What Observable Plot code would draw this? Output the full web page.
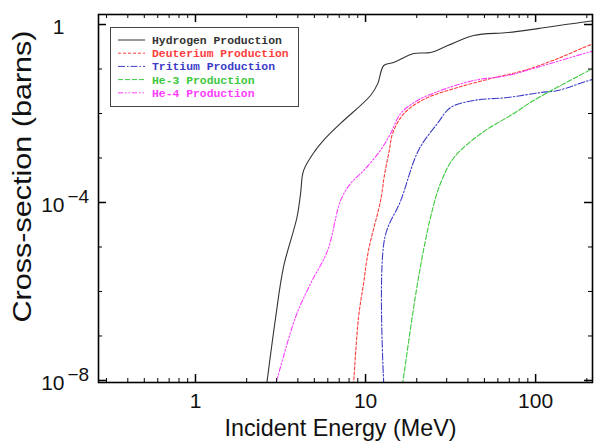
<!DOCTYPE html>
<html><head><meta charset="utf-8">
<script src="https://cdn.jsdelivr.net/npm/d3@7"></script>
<script src="https://cdn.jsdelivr.net/npm/@observablehq/plot@0.6"></script>
<style>
html,body{margin:0;padding:0;background:#fff;}
#wrap{position:relative;width:594px;height:447px;overflow:hidden;}
#legend{position:absolute;left:0;top:0;}
</style></head><body><div id="wrap"></div>
<script>
// ---- data ----
const seriesNames = ["Hydrogen Production","Deuterium Production","Tritium Production","He-3 Production","He-4 Production"];
const seriesColors = ["#333333","#ff3c3c","#3c3cc8","#3cc83c","#ff3cff"];
const seriesDash = ["none","3,2","7,2,1.5,2","5,2","5,2,1.5,2,1.5,2"];

const hydrogenE  = [2.62, 2.96, 3.29, 3.95, 4.15, 4.32, 5.08, 5.66, 7.13, 10.7, 11.8, 12.8, 14.6, 19.2, 24.1, 30.4, 43.2, 68.4, 103, 202, 216];
const hydrogenXS = [8e-9, 2.6e-7, 3.5e-6, 4.6e-5, 1.6e-4, 5.2e-4, 1.5e-3, 2.5e-3, 6.0e-3, 0.0254, 0.047, 0.12, 0.14, 0.223, 0.235, 0.337, 0.566, 0.66, 0.81, 1.17, 1.2];

const deuteriumE  = [8.5, 9.09, 9.73, 10.4, 12.25, 12.9, 13.8, 14.4, 16.1, 18.4, 23.2, 34.8, 54.4, 85, 135, 205, 216];
const deuteriumXS = [8e-9, 2.6e-7, 1.5e-6, 8.3e-6, 1.1e-4, 4.0e-4, 1.5e-3, 3.5e-3, 8.1e-3, 0.0136, 0.0229, 0.0384, 0.061, 0.092, 0.172, 0.337, 0.36];

const tritiumE  = [12.8, 12.95, 16.1, 20.5, 26.5, 31.6, 43.2, 68.4, 107, 135, 205, 216];
const tritiumXS = [8e-9, 1.55e-5, 1.1e-4, 1.5e-3, 6.0e-3, 0.0136, 0.0196, 0.0229, 0.0296, 0.0329, 0.0552, 0.058];

const he3E  = [16.5, 20.2, 24.1, 27.6, 33.0, 47.5, 74.3, 97.3, 205, 216];
const he3XS = [8e-9, 1.5e-6, 4.6e-5, 2.7e-4, 1.0e-3, 3.5e-3, 0.01, 0.0196, 0.092, 0.102];

const he4E  = [2.96, 3.87, 4.75, 5.98, 7.13, 8.16, 9.73, 12.25, 14.0, 16.1, 20.2, 27.6, 43.2, 68.4, 97.3, 202, 216];
const he4XS = [8e-9, 2.6e-7, 1.5e-6, 8.3e-6, 1.1e-4, 2.67e-4, 5.2e-4, 1.5e-3, 3.5e-3, 0.01, 0.0196, 0.0329, 0.0552, 0.0714, 0.103, 0.235, 0.25];

const xMajorTicks = [1, 10, 100];
const xMajorLabels = ["1", "10", "100"];
const xMinorTicks = [0.3,0.4,0.5,0.6,0.7,0.8,0.9,2,3,4,5,6,7,8,9,20,30,40,50,60,70,80,90,200];
const yMajorTicks = [1, 1e-4, 1e-8];
const yLabelBase = ["1", "10", "10"];
const yLabelExp  = ["", "\u22124", "\u22128"];
const yMinorTicks = [1e-1,1e-2,1e-3,1e-5,1e-6,1e-7];

const xTitle = "Incident Energy (MeV)";
const yTitle = "Cross-section (barns)";

// ---- layout ----
const W = 594, H = 447, mL = 98, mT = 14, mR = 2, mB = 65;
const innerW = W - mL - mR, innerH = H - mT - mB;
const xDomain = [0.269, 216], yDomain = [9.0e-9, 1.68];

const seriesE = [hydrogenE, deuteriumE, tritiumE, he3E, he4E];
const seriesXS = [hydrogenXS, deuteriumXS, tritiumXS, he3XS, he4XS];
const tables = seriesNames.map((name, k) => seriesE[k].map((e, i) => ({series: name, E: e, xs: seriesXS[k][i]})));

const font = "'Liberation Sans', Arial, Helvetica, sans-serif";

const marks = [];
// curves
tables.forEach((t, k) => {
  marks.push(Plot.line(t, {x: "E", y: "xs", stroke: seriesColors[k], strokeWidth: 1.1, curve: "catmull-rom",
    strokeDasharray: seriesDash[k] === "none" ? null : seriesDash[k], clip: true}));
});
// frame & ticks (inward)
marks.push(Plot.frame({stroke: "#000", strokeWidth: 1.6}));
marks.push(Plot.ruleX(xMajorTicks, {x: d => d, insetTop: innerH - 8, stroke: "#000", strokeWidth: 1.5}));
marks.push(Plot.ruleX(xMajorTicks, {x: d => d, insetBottom: innerH - 8, stroke: "#000", strokeWidth: 1.5}));
marks.push(Plot.ruleX(xMinorTicks, {x: d => d, insetTop: innerH - 4, stroke: "#000", strokeWidth: 1}));
marks.push(Plot.ruleX(xMinorTicks, {x: d => d, insetBottom: innerH - 4, stroke: "#000", strokeWidth: 1}));
marks.push(Plot.ruleY(yMajorTicks, {y: d => d, insetRight: innerW - 8, stroke: "#000", strokeWidth: 1.5}));
marks.push(Plot.ruleY(yMajorTicks, {y: d => d, insetLeft: innerW - 8, stroke: "#000", strokeWidth: 1.5}));
marks.push(Plot.ruleY(yMinorTicks, {y: d => d, insetRight: innerW - 4, stroke: "#000", strokeWidth: 1}));
marks.push(Plot.ruleY(yMinorTicks, {y: d => d, insetLeft: innerW - 4, stroke: "#000", strokeWidth: 1}));
// tick labels
marks.push(Plot.text(xMajorTicks, {x: d => d, frameAnchor: "bottom", dy: 25, text: (d, i) => xMajorLabels[i], fontSize: 21, fill: "#111"}));
marks.push(Plot.text(yMajorTicks, {y: d => d, frameAnchor: "left", dx: -34, dy: 3, textAnchor: "end", text: (d, i) => yLabelBase[i], fontSize: 21, fill: "#111"}));
marks.push(Plot.text(yMajorTicks, {y: d => d, frameAnchor: "left", dx: -31, dy: -6, textAnchor: "start", text: (d, i) => yLabelExp[i], fontSize: 19, fill: "#111"}));
// axis titles (start-anchored so the stretched length lands where the reference has it)
marks.push(Plot.text([xTitle], {frameAnchor: "bottom", dy: 53, dx: -121, textAnchor: "start", text: d => d, fontSize: 24, fill: "#111"}));
marks.push(Plot.text([yTitle], {frameAnchor: "left", dx: -76, dy: 124, rotate: -90, textAnchor: "start", text: d => d, fontSize: 25, fill: "#111"}));

const chart = Plot.plot({
  width: W, height: H,
  marginLeft: mL, marginTop: mT, marginRight: mR, marginBottom: mB,
  x: {type: "log", domain: xDomain, axis: null},
  y: {type: "log", domain: yDomain, axis: null},
  style: {fontFamily: font, background: "#fff", overflow: "visible"},
  marks
});
document.getElementById("wrap").appendChild(chart);

// stretch axis titles to the reference lengths
d3.select(chart).selectAll("text").filter(function() { return this.textContent === yTitle; })
  .attr("textLength", 292).attr("lengthAdjust", "spacingAndGlyphs");
d3.select(chart).selectAll("text").filter(function() { return this.textContent === xTitle; })
  .attr("textLength", 232).attr("lengthAdjust", "spacingAndGlyphs");

// legend (inside the frame, top-left)
const lg = d3.select("#wrap").append("svg").attr("id", "legend").attr("width", W).attr("height", H);
lg.append("rect").attr("x", 110.5).attr("y", 27.5).attr("width", 188).attr("height", 79)
  .attr("fill", "#fff").attr("stroke", "#444").attr("stroke-width", 1);
seriesNames.forEach((name, k) => {
  const y = 40 + k * 13.2;
  lg.append("line").attr("x1", 118).attr("x2", 145).attr("y1", y).attr("y2", y)
    .attr("stroke", seriesColors[k]).attr("stroke-width", 1)
    .attr("stroke-dasharray", seriesDash[k] === "none" ? null : seriesDash[k]);
  lg.append("text").attr("x", 152).attr("y", y).attr("dy", "0.35em")
    .attr("font-family", "'Liberation Mono', 'Courier New', monospace")
    .attr("font-size", 11.4).attr("font-weight", "bold")
    .attr("fill", seriesColors[k]).text(name);
});
</script>
</body></html>
